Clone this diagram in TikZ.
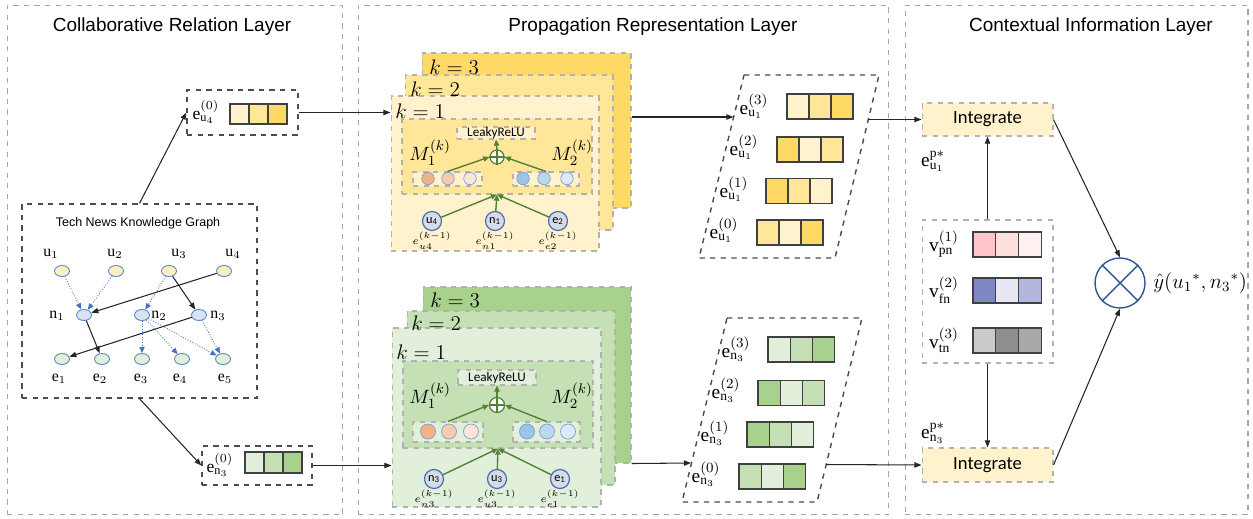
\documentclass[tikz,border=0pt]{standalone}
\usepackage{fontspec}
\setmainfont{Liberation Serif}
\newfontfamily\arialf{Liberation Sans}
\newfontfamily\calf{Carlito}
\usetikzlibrary{arrows.meta,shapes.geometric}

\definecolor{ylight}{HTML}{FFF2CC}
\definecolor{ymid}{HTML}{FFE699}
\definecolor{ydark}{HTML}{FFD966}
\definecolor{glight}{HTML}{E2EFDA}
\definecolor{gmid}{HTML}{C5E0B4}
\definecolor{gdark}{HTML}{A9D18E}
\definecolor{kgu}{HTML}{FFEFC0}
\definecolor{kgn}{HTML}{DAE3F3}
\definecolor{kge}{HTML}{E2F0D9}
\definecolor{rimblue}{HTML}{5B87C8}
\definecolor{entfill}{HTML}{D6DCE5}
\definecolor{entrim}{HTML}{4A6FB5}
\definecolor{arrgreen}{HTML}{548235}
\definecolor{dotblue}{HTML}{4472C4}
\definecolor{otblue}{HTML}{2F5597}
\definecolor{or1}{HTML}{F4B183}
\definecolor{or2}{HTML}{F8CBAD}
\definecolor{or3}{HTML}{FBE5D6}
\definecolor{bu1}{HTML}{9DC3E6}
\definecolor{bu2}{HTML}{BDD7EE}
\definecolor{bu3}{HTML}{DEEBF7}
\definecolor{pk1}{HTML}{FFC5CB}
\definecolor{pk2}{HTML}{FFDEDE}
\definecolor{pk3}{HTML}{FDF1F1}
\definecolor{bl1}{HTML}{7F86C6}
\definecolor{bl2}{HTML}{E6E7F3}
\definecolor{bl3}{HTML}{B3B7E0}
\definecolor{gr1}{HTML}{CACACA}
\definecolor{gr2}{HTML}{8E8E8E}
\definecolor{gr3}{HTML}{A9A9A9}

\tikzset{
  panel/.style={draw=gray!70, dashed, line width=0.6pt},
  headtxt/.style={font=\arialf\fontsize{10.8}{13}\selectfont},
  darkbox/.style={draw=black!70, dashed, line width=0.8pt},
  layerbox/.style={draw=gray!60, dashed, line width=0.6pt, inner sep=0pt},
  cell/.style={draw=black!75, line width=0.6pt, inner sep=0pt},
  kgnode/.style={ellipse, draw=rimblue, line width=0.5pt, minimum width=0.3cm, minimum height=0.22cm, inner sep=0pt},
  kglab/.style={font=\fontsize{9}{10}\selectfont, inner sep=0pt},
  elab/.style={font=\fontsize{11}{13}\selectfont, inner sep=0pt},
  smalllab/.style={font=\fontsize{10}{12}\selectfont, inner sep=0pt},
  klab/.style={font=\fontsize{12}{14}\selectfont, anchor=west, inner sep=0pt},
  mlab/.style={font=\fontsize{11}{13}\selectfont, inner sep=0pt},
  tinylab/.style={font=\fontsize{6}{7}\selectfont, inner sep=0pt},
  ent/.style={circle, draw=entrim, line width=0.7pt, fill=entfill, minimum size=0.38cm, inner sep=0pt, font=\calf\fontsize{7}{8}\selectfont},
  ball/.style={circle, draw=rimblue!80, line width=0.4pt, inner sep=0pt},
  addop/.style={circle, draw=arrgreen, line width=0.7pt, fill=white, inner sep=0pt},
  blk/.style={-{Triangle[length=4pt,width=3pt]}, black!85, line width=0.6pt},
  blu/.style={-{Triangle[length=3.5pt,width=3pt]}, dotblue, densely dotted, line width=0.5pt},
  grn/.style={-{Triangle[length=3.5pt,width=3pt]}, arrgreen, line width=0.8pt}
}

% row of embedding cells: name, left x, centre y, cell width, cell height, colours
\newcommand{\embvec}[6]{%
  \foreach \col [count=\i] in {#6}
    \node[cell, fill=\col, minimum width=#4*0.02cm, minimum height=#5*0.02cm] (#1-\i) at ({#2+(\i-0.5)*#4},#3) {};}

\begin{document}
\begin{tikzpicture}[x=0.02cm, y=-0.02cm]
  \useasboundingbox (0,0) rectangle (1253,518);

  % layers
  \node[panel, minimum width=6.72cm, minimum height=10.2cm] (colP) at (175,260) {};
  \node[panel, minimum width=10.62cm, minimum height=10.2cm] (propP) at (623.5,260) {};
  \node[panel, minimum width=6.86cm, minimum height=10.2cm] (ctxP) at (1076.5,260) {};
  \node[headtxt] (colT) at (172,27) {Collaborative Relation Layer};
  \node[headtxt] (propT) at (653,27) {Propagation Representation Layer};
  \node[headtxt] (ctxT) at (1091,27) {Contextual Information Layer};

  % knowledge graph
  \node[darkbox, minimum width=4.7cm, minimum height=3.88cm] (kg) at (139.5,301) {};
  \node[font=\arialf\fontsize{7.1}{8}\selectfont] (kgT) at (138,223) {Tech News Knowledge Graph};
  \foreach \nm/\x in {u1/62,u2/116,u3/169,u4/224}
    \node[kgnode, fill=kgu] (\nm) at (\x,271) {};
  \foreach \nm/\x in {n1/84,n2/142,n3/199}
    \node[kgnode, fill=kgn] (\nm) at (\x,315) {};
  \foreach \nm/\x in {e1/62,e2/102,e3/142,e4/182,e5/223}
    \node[kgnode, fill=kge] (\nm) at (\x,359) {};
  \foreach \i/\x in {1/51,2/115,3/179,4/233}
    \node[kglab] (lu\i) at (\x,254) {$\mathrm{u}_{\i}$};
  \node[kglab] (ln1) at (57,316) {$\mathrm{n}_1$};
  \node[kglab] (ln2) at (159,316) {$\mathrm{n}_2$};
  \node[kglab] (ln3) at (218,316) {$\mathrm{n}_3$};
  \foreach \i/\x in {1/59,2/100,3/141,4/180,5/225}
    \node[kglab] (le\i) at (\x,379) {$\mathrm{e}_{\i}$};
  \draw[blu] (u1) -- (n1);
  \draw[blu] (u2) -- (n1);
  \draw[blu] (u3) -- (n2);
  \draw[blu] (n2) -- (e3);
  \draw[blu] (n2) -- (e4);
  \draw[blu] (n2) -- (e5);
  \draw[blu] (n3) -- (e5);
  \draw[blk] (u4) -- (n1);
  \draw[blk] (u3) -- (n3);
  \draw[blk] (n1) -- (e2);
  \draw[blk] (n3) -- (e1);

  % initial embeddings
  \node[darkbox, minimum width=2.22cm, minimum height=0.9cm] (eu) at (242.5,112.5) {};
  \node[smalllab] (euL) at (206,112) {$\mathrm{e}^{(0)}_{\mathrm{u}_4}$};
  \embvec{euv}{230}{114}{19}{20}{ylight,ymid,ydark}
  \node[darkbox, minimum width=2.2cm, minimum height=0.78cm] (en) at (257,465.5) {};
  \node[smalllab] (enL) at (220,465) {$\mathrm{e}^{(0)}_{\mathrm{n}_3}$};
  \embvec{env}{245}{462.5}{19}{21}{glight,gmid,gdark}
  \draw[blk] (kg.north) -- (eu.west);
  \draw[blk] (kg.south) -- (en.west);

  % propagation, user side
  \node[layerbox, fill=ydark, minimum width=4.18cm, minimum height=3.1cm] (tk3) at (526.5,130.5) {};
  \node[layerbox, fill=ymid, minimum width=4.16cm, minimum height=3.1cm] (tk2) at (509,152.5) {};
  \node[layerbox, fill=ylight, minimum width=4.16cm, minimum height=3.1cm] (tk1) at (495,173.5) {};
  \node[klab] (tk3L) at (429,67) {$k=3$};
  \node[klab] (tk2L) at (410,89) {$k=2$};
  \node[klab] (tk1L) at (395,111) {$k=1$};
  \node[layerbox, fill=ymid, minimum width=3.8cm, minimum height=1.5cm] (tin) at (497,156.5) {};
  \node[layerbox, fill=ylight, minimum width=1.56cm, minimum height=0.24cm, font=\calf\fontsize{7.5}{8}\selectfont] (tlr) at (496,133) {LeakyReLU};
  \node[addop, minimum size=0.28cm] (tadd) at (497,157) {};
  \draw[arrgreen, line width=0.7pt] (tadd.north) -- (tadd.south) (tadd.west) -- (tadd.east);
  \node[mlab] (tm1) at (430,153) {$M_1^{(k)}$};
  \node[mlab] (tm2) at (572,153) {$M_2^{(k)}$};
  \node[layerbox, fill=ylight, minimum width=1.38cm, minimum height=0.28cm] (tlb) at (447.5,179) {};
  \node[layerbox, fill=ylight, minimum width=1.32cm, minimum height=0.28cm] (trb) at (546,179) {};
  \foreach \col/\x [count=\i] in {or1/428,or2/448,or3/470}
    \node[ball, fill=\col, minimum size=0.25cm] (tld\i) at (\x,178.5) {};
  \foreach \col/\x [count=\i] in {bu1/523,bu2/544,bu3/567}
    \node[ball, fill=\col, minimum size=0.25cm] (trd\i) at (\x,178.5) {};
  \draw[grn] (tlb.north) -- (tadd.west);
  \draw[grn] (trb.north) -- (tadd.east);
  \draw[grn] (tadd.north) -- (tlr.south);
  \node[ent] (tu4) at (432,221) {u\textsubscript{4}};
  \node[ent] (tn1) at (495,221) {n\textsubscript{1}};
  \node[ent] (te2) at (558,221) {e\textsubscript{2}};
  \node[tinylab] (tu4L) at (432,241) {$e^{(k-1)}_{u4}$};
  \node[tinylab] (tn1L) at (495,241) {$e^{(k-1)}_{n1}$};
  \node[tinylab] (te2L) at (558,241) {$e^{(k-1)}_{e2}$};
  \foreach \s in {tu4,tn1,te2}
    \draw[grn] (\s) -- (tin.south);
  \draw[blk] (eu.east) -- (tk1.west |- eu.east);

  % propagation, news side
  \node[layerbox, fill=gdark, minimum width=4.16cm, minimum height=3.52cm] (bk3) at (527,375) {};
  \node[layerbox, fill=gmid, minimum width=4.16cm, minimum height=3.48cm] (bk2) at (511,398) {};
  \node[layerbox, fill=glight, minimum width=4.18cm, minimum height=3.58cm] (bk1) at (496.5,417.5) {};
  \node[klab] (bk3L) at (430,300) {$k=3$};
  \node[klab] (bk2L) at (411,323) {$k=2$};
  \node[klab] (bk1L) at (396,352) {$k=1$};
  \node[layerbox, fill=gmid, minimum width=3.8cm, minimum height=1.74cm] (bin) at (498,404.5) {};
  \node[layerbox, fill=glight, minimum width=1.56cm, minimum height=0.3cm, font=\calf\fontsize{7.5}{8}\selectfont] (blr) at (497,377.5) {LeakyReLU};
  \node[addop, minimum size=0.3cm] (badd) at (497,405) {};
  \draw[arrgreen, line width=0.7pt] (badd.north) -- (badd.south) (badd.west) -- (badd.east);
  \node[mlab] (bm1) at (430,396) {$M_1^{(k)}$};
  \node[mlab] (bm2) at (572,396) {$M_2^{(k)}$};
  \node[layerbox, fill=glight, minimum width=1.4cm, minimum height=0.4cm] (blb) at (448,432) {};
  \node[layerbox, fill=glight, minimum width=1.34cm, minimum height=0.4cm] (brb) at (546.5,432) {};
  \foreach \col/\x [count=\i] in {or1/428,or2/449,or3/471}
    \node[ball, fill=\col, minimum size=0.3cm] (bld\i) at (\x,431.5) {};
  \foreach \col/\x [count=\i] in {bu1/527,bu2/547,bu3/568}
    \node[ball, fill=\col, minimum size=0.3cm] (brd\i) at (\x,431.5) {};
  \draw[grn] (blb.north) -- (badd.west);
  \draw[grn] (brb.north) -- (badd.east);
  \draw[grn] (badd.north) -- (blr.south);
  \node[ent] (bn3) at (434,479) {n\textsubscript{3}};
  \node[ent] (bu3) at (497,479) {u\textsubscript{3}};
  \node[ent] (be1) at (560,479) {e\textsubscript{1}};
  \node[tinylab] (bn3L) at (434,499) {$e^{(k-1)}_{n3}$};
  \node[tinylab] (bu3L) at (497,499) {$e^{(k-1)}_{u3}$};
  \node[tinylab] (be1L) at (560,499) {$e^{(k-1)}_{e1}$};
  \foreach \s in {bn3,bu3,be1}
    \draw[grn] (\s) -- (bin.south);
  \draw[blk] (en.east) -- (bk1.west |- en.east);

  % layer outputs, user
  \draw[darkbox] (744,75) -- (879,75) -- (835,258) -- (699,258) -- cycle;
  \coordinate (pu-in) at (733.5,117);
  \coordinate (pu-out) at (868,119.5);
  \node[elab] (pu3L) at (754,106) {$\mathrm{e}^{(3)}_{\mathrm{u}_1}$};
  \node[elab] (pu2L) at (744,147) {$\mathrm{e}^{(2)}_{\mathrm{u}_1}$};
  \node[elab] (pu1L) at (734,189) {$\mathrm{e}^{(1)}_{\mathrm{u}_1}$};
  \node[elab] (pu0L) at (724,230) {$\mathrm{e}^{(0)}_{\mathrm{u}_1}$};
  \embvec{pu3}{787}{106.5}{22}{25}{ylight,ymid,ydark}
  \embvec{pu2}{777}{149.5}{22}{25}{ydark,ylight,ymid}
  \embvec{pu1}{766}{191}{22}{25}{ydark,ymid,ylight}
  \embvec{pu0}{757}{232.5}{22}{25}{ymid,ylight,ydark}
  \draw[blk] (tk3.east |- pu-in) -- (pu-in);

  % layer outputs, news
  \draw[darkbox] (727,318) -- (862,318) -- (817,502) -- (682,502) -- cycle;
  \coordinate (pn-in) at (691,463);
  \coordinate (pn-out) at (826,464.5);
  \node[elab] (pn3L) at (736,349) {$\mathrm{e}^{(3)}_{\mathrm{n}_3}$};
  \node[elab] (pn2L) at (726,390) {$\mathrm{e}^{(2)}_{\mathrm{n}_3}$};
  \node[elab] (pn1L) at (715,433) {$\mathrm{e}^{(1)}_{\mathrm{n}_3}$};
  \node[elab] (pn0L) at (706,474) {$\mathrm{e}^{(0)}_{\mathrm{n}_3}$};
  \embvec{pn3}{768}{349.5}{22.3}{25}{glight,gmid,gdark}
  \embvec{pn2}{758}{393}{22.3}{25}{gdark,glight,gmid}
  \embvec{pn1}{747}{434.5}{22.3}{25}{gdark,gmid,glight}
  \embvec{pn0}{739}{476.5}{22.3}{25}{gmid,glight,gdark}
  \draw[blk] (bk3.south east) -- (pn-in);

  % context
  \node[layerbox, fill=ylight, minimum width=2.62cm, minimum height=0.66cm, font=\calf\fontsize{10.6}{12}\selectfont] (intU) at (987.5,119.5) {Integrate};
  \node[layerbox, fill=ylight, minimum width=2.62cm, minimum height=0.68cm, font=\calf\fontsize{10.6}{12}\selectfont] (intN) at (987.5,465) {Integrate};
  \node[elab] (epu) at (933,161) {$\mathrm{e}^{\mathrm{p}*}_{\mathrm{u}_1}$};
  \node[elab] (epn) at (933,433) {$\mathrm{e}^{\mathrm{p}*}_{\mathrm{n}_3}$};
  \node[layerbox, minimum width=2.62cm, minimum height=2.86cm] (ctx) at (987.5,291.5) {};
  \node[elab] (vpL) at (944,244) {$\mathrm{v}^{(1)}_{\mathrm{pn}}$};
  \node[elab] (vfL) at (944,290) {$\mathrm{v}^{(2)}_{\mathrm{fn}}$};
  \node[elab] (vtL) at (944,340) {$\mathrm{v}^{(3)}_{\mathrm{tn}}$};
  \embvec{vp}{973}{244.5}{22.7}{25}{pk1,pk2,pk3}
  \embvec{vf}{973}{290.5}{22.7}{25}{bl1,bl2,bl3}
  \embvec{vt}{973}{340.5}{22.7}{25}{gr1,gr2,gr3}
  \draw[blk] (pu-out) -- (intU.west);
  \draw[blk] (pn-out) -- (intN.west);
  \draw[blk] (ctx.north) -- (intU.south);
  \draw[blk] (ctx.south) -- (intN.north);
  \node[circle, draw=otblue, line width=0.8pt, minimum size=1cm] (ot) at (1120,283) {};
  \draw[otblue, line width=0.8pt] (ot.45) -- (ot.225) (ot.135) -- (ot.-45);
  \node[anchor=west, inner sep=0pt, font=\fontsize{11.5}{14}\selectfont] (yhat) at (1153,283) {$\hat{y}(u_1{}^{*},n_3{}^{*})$};
  \draw[blk] (intU.east) -- (ot.north);
  \draw[blk] (intN.east) -- (ot.south);
\end{tikzpicture}
\end{document}
